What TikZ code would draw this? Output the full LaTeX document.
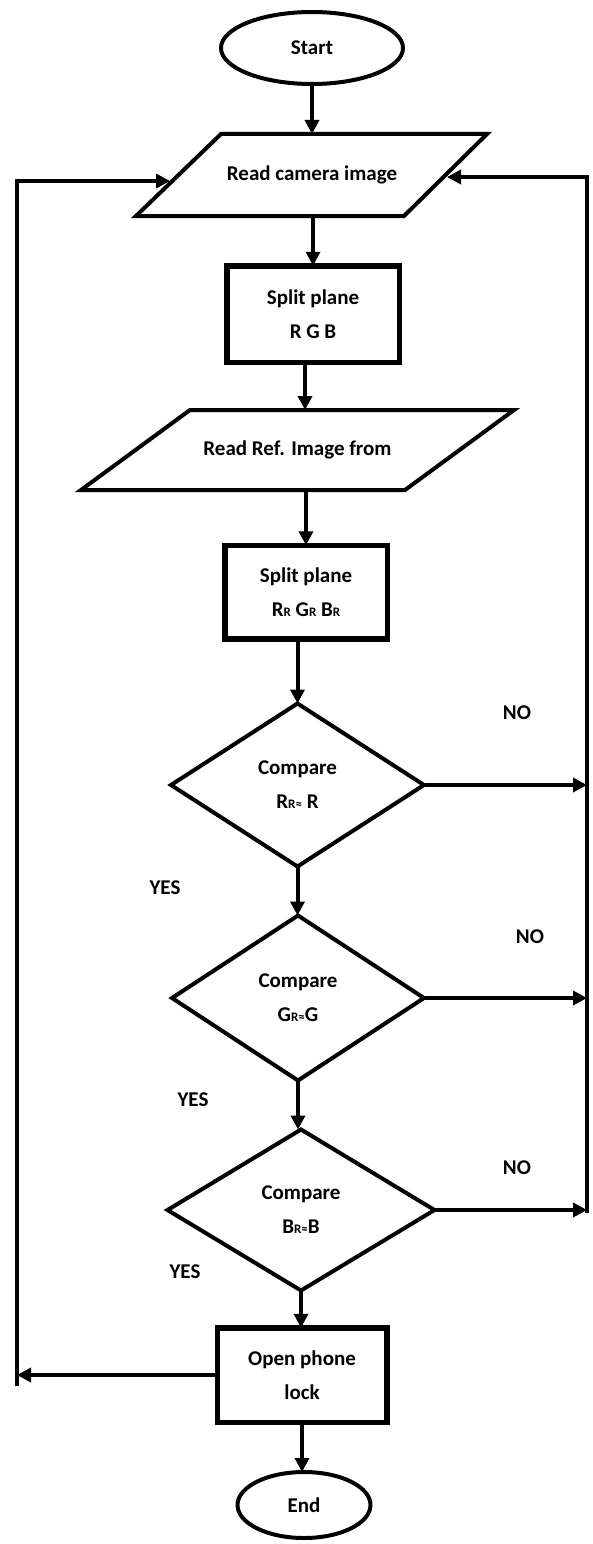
\documentclass[tikz,border=0pt]{standalone}
\usepackage{fontspec}
\setmainfont{Carlito}
\usetikzlibrary{shapes.geometric,arrows.meta,calc}
\newcommand{\smr}[1]{{\fontsize{13}{13}\selectfont #1}}
\begin{document}
\begin{tikzpicture}[x=1pt,y=-1pt,
  every node/.style={font=\fontsize{21}{34}\selectfont\bfseries, align=center, inner sep=0pt, outer sep=0pt},
  base/.style={draw, line width=4pt, line join=miter},
  term/.style={base, ellipse},
  iotext/.style={rectangle},
  proc/.style={draw, line width=5.5pt, rectangle},
  dec/.style={base, diamond},
  arr/.style={line width=4pt, -{Triangle[length=14pt,width=14pt]}},
  lbl/.style={}
]
\useasboundingbox (0,0) rectangle (593,1544);

\node[term, minimum width=182pt, minimum height=72pt] (start) at (312,48) {Start};

% input/output parallelogram 1
\node[iotext, minimum width=266pt, minimum height=82pt] (p1) at (312,175) {Read camera image};
\draw[base] (221,134) -- (487,134) -- (404,216) -- (136,216) -- cycle;
\coordinate (p1L) at (170,181);
\coordinate (p1R) at (447,177);

\node[proc, minimum width=172.5pt, minimum height=96.5pt] (r1) at (313,314) {Split plane\\R G B};

% input/output parallelogram 2
\node[iotext, minimum width=300pt, minimum height=80pt] (p2) at (297.5,450) {Read Ref. Image from};
\draw[base] (190,410) -- (514,410) -- (405,490) -- (81,490) -- cycle;

\node[proc, minimum width=162.5pt, minimum height=93.5pt] (r2) at (306,592) {Split plane\\R\smr{R} G\smr{R} B\smr{R}};
\node[dec, minimum width=253pt, minimum height=163pt] (d1) at (297.5,785) {Compare\\R\smr{R≈} R};
\node[dec, minimum width=252pt, minimum height=165pt] (d2) at (298,998) {Compare\\G\smr{R≈}G};
\node[dec, minimum width=267pt, minimum height=161pt] (d3) at (301,1210) {Compare\\B\smr{R≈}B};
\node[proc, minimum width=169.5pt, minimum height=94.5pt] (r3) at (302,1375) {Open phone\\lock};
\node[term, minimum width=133pt, minimum height=66pt] (end) at (304,1505) {End};

\node[lbl] (no1) at (517,713) {NO};
\node[lbl] (no2) at (530,937) {NO};
\node[lbl] (no3) at (517,1168) {NO};
\node[lbl] (yes1) at (165,888) {YES};
\node[lbl] (yes2) at (193,1100) {YES};
\node[lbl] (yes3) at (185,1272) {YES};

\coordinate (lb) at (17,1386);
\coordinate (rb) at (587,1213);

\draw[arr] (start.south) -- (p1.north);
\draw[arr] (r1.north |- p1.south) -- (r1.north);
\draw[arr] ([xshift=-8pt]r1.south) -- ([xshift=-8pt]r1.south |- p2.north);
\draw[arr] (r2.north |- p2.south) -- (r2.north);
\draw[arr] (d1.north |- r2.south) -- (d1.north);
\draw[arr] (d1.south) -- (d1.south |- d2.north);
\draw[arr] (d2.south) -- (d2.south |- d3.north);
\draw[arr] (d3.south) -- (d3.south |- r3.north);
\draw[arr] (r3.south) -- (r3.south |- end.north);

\draw[arr] (d1.east) -- (d1.east -| rb);
\draw[arr] (d2.east) -- (d2.east -| rb);
\draw[arr] (d3.east) -- (d3.east -| rb);
\draw[arr] (rb) |- (p1R);

\draw[arr] (r3.west) -- (r3.west -| lb);
\draw[arr] (lb) |- (p1L);
\end{tikzpicture}
\end{document}
